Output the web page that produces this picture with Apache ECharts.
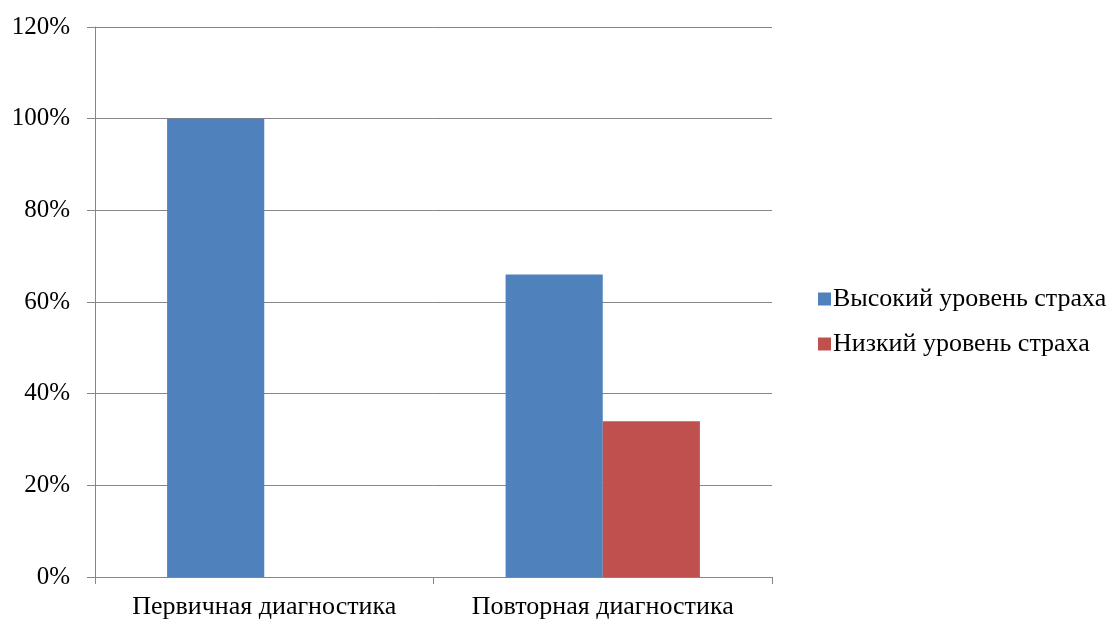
<!DOCTYPE html>
<html><head><meta charset="utf-8">
<script src="https://cdn.jsdelivr.net/npm/echarts@6/dist/echarts.min.js"></script>
<style>html,body{margin:0;padding:0;background:#fff}#c{width:1116px;height:620px}</style>
</head><body><div id="c"></div>
<script>
const categories = ['Первичная диагностика', 'Повторная диагностика'];
const seriesNames = ['Высокий уровень страха', 'Низкий уровень страха'];
const highFear = [100, 66];
const lowFear = [0, 34];
const colors = ['#4F81BD', '#C0504D'];
const font = 'Liberation Serif';
const chart = echarts.init(document.getElementById('c'));
chart.setOption({
  animation: false,
  grid: {left: 95, right: 344, top: 27, bottom: 43, containLabel: false},
  legend: {
    orient: 'vertical', left: 813, top: 281, itemWidth: 13, itemHeight: 13, itemGap: 19,
    icon: 'rect',
    textStyle: {fontFamily: font, fontSize: 26, color: '#000', padding: [0,0,0,-3]},
    data: seriesNames
  },
  xAxis: {
    type: 'category', data: categories,
    axisLine: {lineStyle: {color: '#868686', width: 1}},
    axisTick: {show: true, interval: 0, length: 7, lineStyle: {color: '#868686'}},
    axisLabel: {fontFamily: font, fontSize: 26, color: '#000', margin: 17, interval: 0, hideOverlap: false}
  },
  yAxis: {
    type: 'value', min: 0, max: 120, interval: 20,
    axisLine: {show: true, lineStyle: {color: '#868686'}},
    axisTick: {show: true, length: 8, lineStyle: {color: '#868686'}},
    splitLine: {lineStyle: {color: '#868686'}},
    axisLabel: {fontFamily: font, fontSize: 25, color: '#000', margin: 25, formatter: '{value}%'}
  },
  series: [
    {name: seriesNames[0], type: 'bar', data: highFear, itemStyle: {color: colors[0]}, barGap: '0%', barCategoryGap: '42.6%'},
    {name: seriesNames[1], type: 'bar', data: lowFear, itemStyle: {color: colors[1]}, barGap: '0%', barCategoryGap: '42.6%'}
  ]
});
</script></body></html>
